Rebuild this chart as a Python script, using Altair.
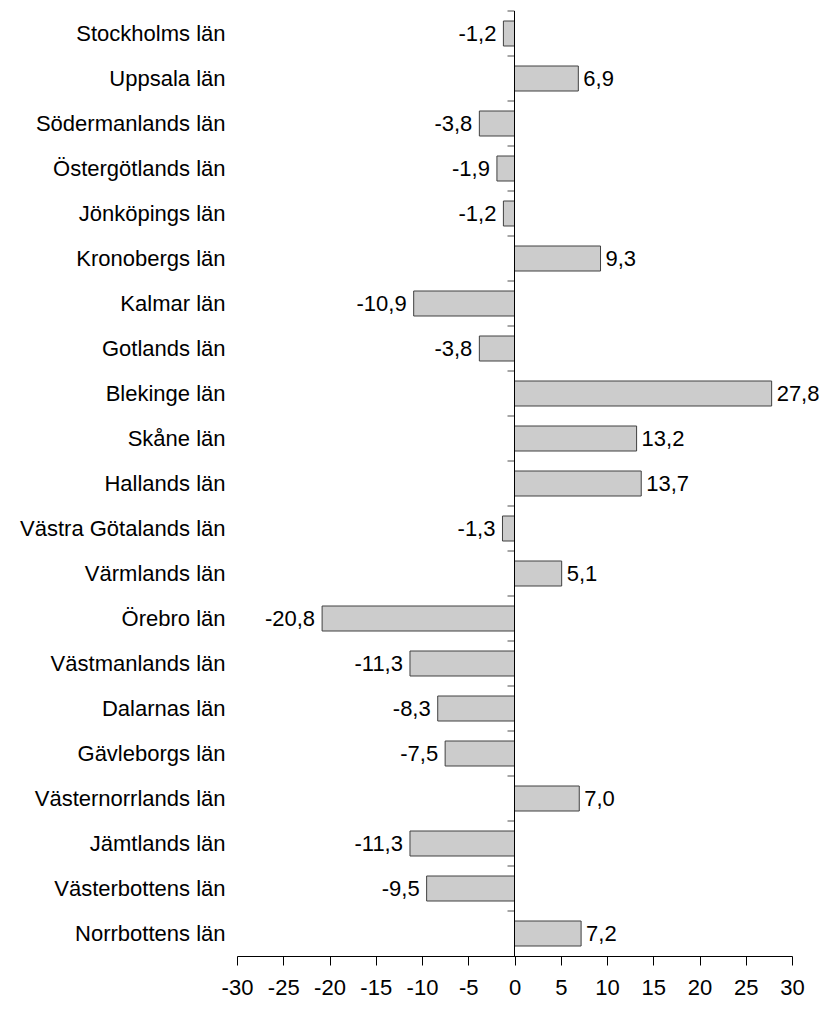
import altair as alt
import pandas as pd

counties = [
    "Stockholms län", "Uppsala län", "Södermanlands län", "Östergötlands län",
    "Jönköpings län", "Kronobergs län", "Kalmar län", "Gotlands län",
    "Blekinge län", "Skåne län", "Hallands län", "Västra Götalands län",
    "Värmlands län", "Örebro län", "Västmanlands län", "Dalarnas län",
    "Gävleborgs län", "Västernorrlands län", "Jämtlands län",
    "Västerbottens län", "Norrbottens län",
]
values = [-1.2, 6.9, -3.8, -1.9, -1.2, 9.3, -10.9, -3.8, 27.8, 13.2, 13.7,
          -1.3, 5.1, -20.8, -11.3, -8.3, -7.5, 7.0, -11.3, -9.5, 7.2]
x_ticks = [-30, -25, -20, -15, -10, -5, 0, 5, 10, 15, 20, 25, 30]

df = pd.DataFrame({"lan": counties, "value": values})
df["label"] = [f"{v:.1f}".replace(".", ",") for v in values]

FONT = "Liberation Sans"
FS = 22

xscale = alt.Scale(domain=[-30, 30], nice=False, zero=False)
yscale = alt.Scale(domain=counties, paddingInner=0, paddingOuter=0)

y_enc = alt.Y("lan:N", sort=counties, scale=yscale, title=None,
              axis=alt.Axis(domain=False, ticks=False, labelPadding=12,
                            labelFontSize=FS, labelFont=FONT, labelColor="black",
                            labelLimit=400))
x_enc = alt.X("value:Q", scale=xscale, title=None,
              axis=alt.Axis(values=x_ticks, grid=False, domainColor="black",
                            tickColor="black", tickSize=9, labelPadding=12,
                            labelExpr="datum.value",
                            labelFontSize=FS, labelFont=FONT, labelColor="black",
                            labelFlush=False, labelOverlap=False))

base = alt.Chart(df)

bars = base.mark_bar(size=25, color="#cccccc", stroke="#404040", strokeWidth=1).encode(
    x=x_enc, y=y_enc
)

zero = base.mark_rule(color="black", strokeWidth=1).encode(x=alt.datum(0))

ticks = base.mark_tick(orient="horizontal", size=7, thickness=1, color="black",
                       xOffset=-3.5).encode(
    x=alt.datum(0),
    y=alt.Y("lan:N", sort=counties, bandPosition=0),
)

neg = base.transform_filter("datum.value < 0").mark_text(
    align="right", baseline="middle", dx=-7, font=FONT, fontSize=FS, color="black"
).encode(x="value:Q", y=alt.Y("lan:N", sort=counties), text="label:N")

pos = base.transform_filter("datum.value >= 0").mark_text(
    align="left", baseline="middle", dx=5, font=FONT, fontSize=FS, color="black"
).encode(x="value:Q", y=alt.Y("lan:N", sort=counties), text="label:N")

chart = alt.layer(bars, zero, ticks, neg, pos).properties(
    width=555, height=945,
    background="white",
    autosize=alt.AutoSizeParams(type="none"),
    padding={"left": 229, "top": 3, "right": 28, "bottom": 45},
).configure_view(strokeWidth=0, stroke=None)

chart.save("out.html", embed_options={"renderer": "svg", "actions": False})
